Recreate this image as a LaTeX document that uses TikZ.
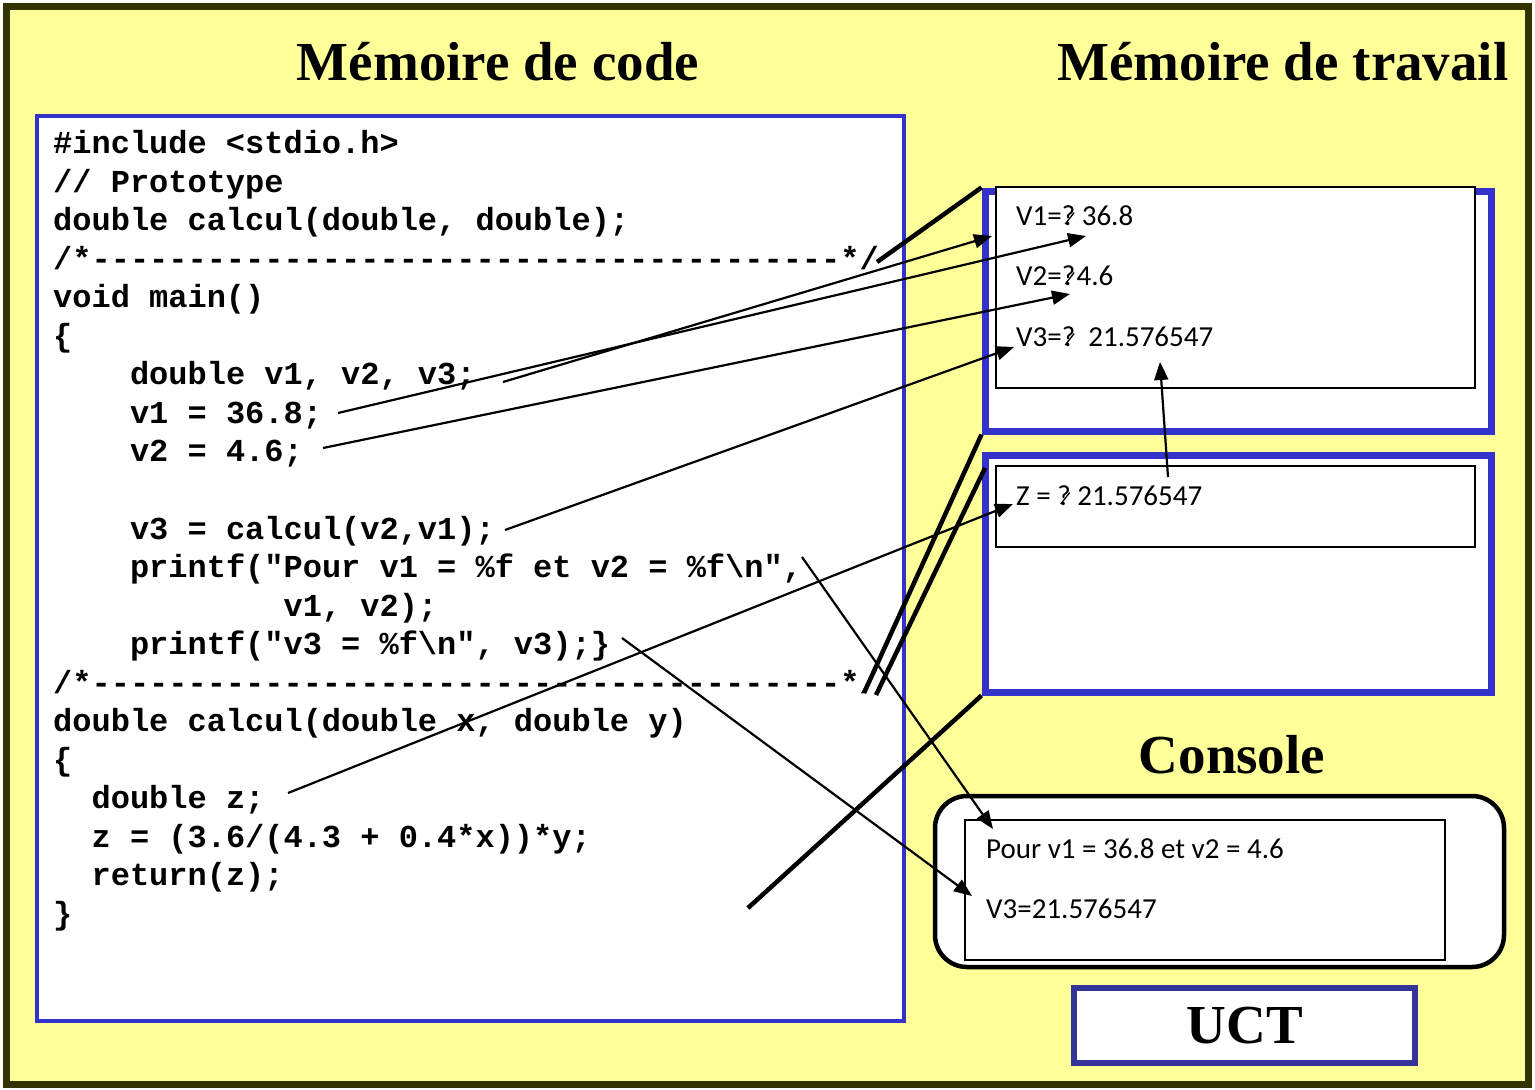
\documentclass[tikz,border=0pt]{standalone}
\usepackage{fontspec}
\setmonofont{Liberation Mono}
\newfontfamily\titlefont{Liberation Serif}
\newfontfamily\memfont{Carlito}
\usetikzlibrary{arrows.meta}
\definecolor{bgyellow}{HTML}{FFFF99}
\definecolor{frameblue}{HTML}{3333CC}
\definecolor{uctblue}{HTML}{333399}
\definecolor{olive}{HTML}{333300}
\newcommand\xq{?\llap{\raisebox{0.02em}{\rotatebox{52}{\rule{0.5em}{0.045em}}}\kern0.02em}}
\tikzset{
  codeline/.style={anchor=base west, inner sep=0pt, font=\ttfamily\bfseries\fontsize{32}{38}\selectfont},
  memtext/.style={anchor=base west, inner sep=0pt, font=\memfont\fontsize{29}{34}\selectfont},
  titletext/.style={anchor=base, inner sep=0pt, font=\titlefont\bfseries\fontsize{55}{60}\selectfont},
  bluebox/.style={draw=frameblue, fill=white, line width=7pt, inner sep=0pt},
  codebox/.style={draw=frameblue, fill=white, line width=4pt, inner sep=0pt},
  innerbox/.style={draw=black, fill=white, line width=1.5pt, inner sep=0pt},
  consolebox/.style={draw=black, fill=white, line width=4.5pt, rounded corners=32pt, inner sep=0pt},
  uctbox/.style={draw=uctblue, fill=white, line width=6.5pt, inner sep=0pt},
  arr/.style={line width=2.2pt, -{Triangle[length=18pt,width=14pt]}},
  frameline/.style={line width=4.5pt},
}
\begin{document}
\begin{tikzpicture}[x=1pt,y=-1pt]
\useasboundingbox (0,0) rectangle (1535,1090);
\fill[white] (0,0) rectangle (1535,1090);
\draw[olive, fill=bgyellow, line width=7pt] (6.5,6) rectangle (1528.5,1084);

% titles
\node[titletext] (tcode) at (498,80) {Mémoire de code};
\node[titletext] (twork) at (1283,80) {Mémoire de travail};
\node[titletext] (tcons) at (1232,773) {Console};

% code box
\node[codebox, minimum width=867pt, minimum height=905pt] (code) at (470.5,568.5) {};

% code lines
\def\lh{38.55}
\def\bl{153.5}
\node[codeline] (l1) at (53,\bl) {\#include <stdio.h>};
\node[codeline] (l2) at (53,\bl+1*\lh) {// Prototype};
\node[codeline] (l3) at (53,\bl+2*\lh) {double calcul(double, double);};
\node[codeline] (l4) at (53,\bl+3*\lh) {/*---------------------------------------*/};
\node[codeline] (l5) at (53,\bl+4*\lh) {void main()};
\node[codeline] (l6) at (53,\bl+5*\lh) {\{};
\node[codeline] (l7) at (129.8,\bl+6*\lh) {double v1, v2, v3;};
\node[codeline] (l8) at (129.8,\bl+7*\lh) {v1 = 36.8;};
\node[codeline] (l9) at (129.8,\bl+8*\lh) {v2 = 4.6;};
\node[codeline] (l11) at (129.8,\bl+10*\lh) {v3 = calcul(v2,v1);};
\node[codeline] (l12) at (129.8,\bl+11*\lh) {printf("Pour v1 = \%f et v2 = \%f\textbackslash n",};
\node[codeline] (l13) at (283.4,\bl+12*\lh) {v1, v2);};
\node[codeline] (l14) at (129.8,\bl+13*\lh) {printf("v3 = \%f\textbackslash n", v3);\}};
\node[codeline] (l15) at (53,\bl+14*\lh) {/*---------------------------------------*/};
\node[codeline] (l16) at (53,\bl+15*\lh) {double calcul(double x, double y)};
\node[codeline] (l17) at (53,\bl+16*\lh) {\{};
\node[codeline] (l18) at (91.4,\bl+17*\lh) {double z;};
\node[codeline] (l19) at (91.4,\bl+18*\lh) {z = (3.6/(4.3 + 0.4*x))*y;};
\node[codeline] (l20) at (91.4,\bl+19*\lh) {return(z);};
\node[codeline] (l21) at (53,\bl+20*\lh) {\}};

% working memory frames
\node[bluebox, minimum width=506pt, minimum height=240pt] (f1) at (1238,311) {};
\node[innerbox, minimum width=479pt, minimum height=201pt] (f1in) at (1235.5,287.5) {};
\node[bluebox, minimum width=506pt, minimum height=237pt] (f2) at (1238,573.5) {};
\node[innerbox, minimum width=479pt, minimum height=81pt] (f2in) at (1235.5,506.5) {};

\node[memtext] (mv1) at (1016,225) {V1=\xq{} 36.8};
\node[memtext] (mv2) at (1016,285) {V2=\xq{}\kern0.05em4.6};
\node[memtext] (mv3) at (1016,346) {V3=\xq{}\ \ 21.576547};
\node[memtext] (mz) at (1016,505) {Z = \xq{} 21.576547};

% console
\node[consolebox, minimum width=569pt, minimum height=171pt] (cons) at (1219.5,881.5) {};
\node[innerbox, minimum width=480pt, minimum height=140pt] (consin) at (1205,890) {};
\node[memtext] (c1) at (986,858) {Pour v1 = 36.8 et v2 = 4.6};
\node[memtext] (c2) at (986,918) {V3=21.576547};

% UCT
\node[uctbox, minimum width=341pt, minimum height=75pt] (uct) at (1244.5,1025.5) {};
\node[titletext] (tuct) at (1245,1043) {UCT};

% connector end points
\coordinate (sdecl) at (503,382);
\coordinate (tv1) at (992,236);
\coordinate (sv1) at (338,413);
\coordinate (tv1val) at (1086,236);
\coordinate (sv2) at (323,448);
\coordinate (tv2) at (1070,294);
\coordinate (sv3) at (505,530);
\coordinate (tv3) at (1014,347);
\coordinate (sz) at (288,793);
\coordinate (tz) at (1013,504);
\coordinate (szr) at (1168,477);
\coordinate (tv3val) at (1160,362);
\coordinate (sp1) at (802,557);
\coordinate (tc1) at (993,829);
\coordinate (sp2) at (622,638);
\coordinate (tc2) at (972,896);
\coordinate (k1s) at (877,262);
\coordinate (k2s) at (864,693);
\coordinate (k3s) at (876,695);
\coordinate (k3e) at (985,468);
\coordinate (k4s) at (748,908);

% thick frame lines
\draw[frameline] (k1s) -- (f1.north west);
\draw[frameline] (k2s) -- (f1.south west);
\draw[frameline] (k3s) -- (k3e);
\draw[frameline] (k4s) -- (f2.south west);

% arrows
\draw[arr] (sdecl) -- (tv1);
\draw[arr] (sv1) -- (tv1val);
\draw[arr] (sv2) -- (tv2);
\draw[arr] (sv3) -- (tv3);
\draw[arr] (sz) -- (tz);
\draw[arr] (szr) -- (tv3val);
\draw[arr] (sp1) -- (tc1);
\draw[arr] (sp2) -- (tc2);
\end{tikzpicture}
\end{document}
